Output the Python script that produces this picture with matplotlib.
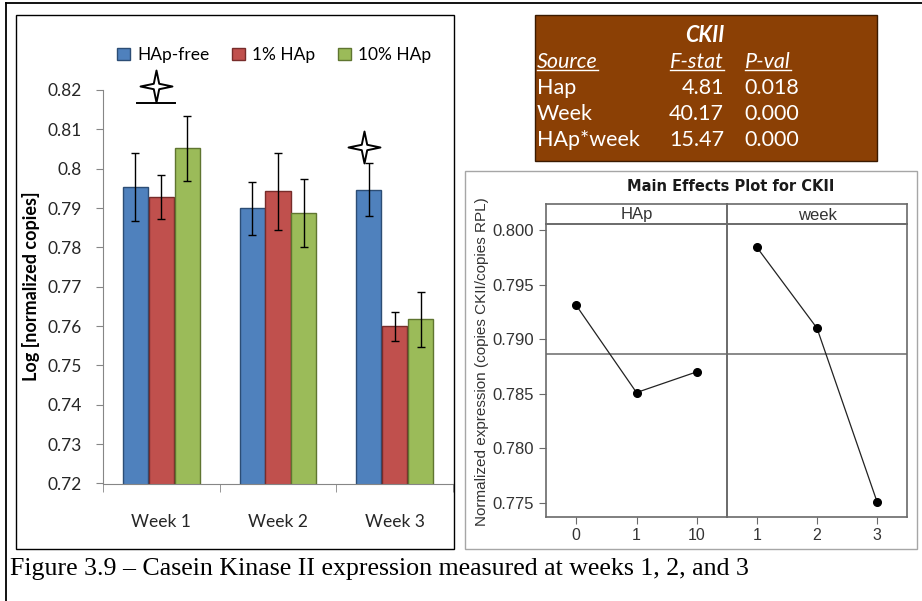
import numpy as np
import matplotlib
matplotlib.use('Agg')
import matplotlib.pyplot as plt
from matplotlib.patches import Rectangle
from matplotlib.lines import Line2D
from matplotlib.path import Path

W, H = 922, 601

# bar chart data
weeks = ['Week 1', 'Week 2', 'Week 3']
groups = ['HAp-free', '1% HAp', '10% HAp']
hap_free = [0.7953, 0.7899, 0.7947]
hap_1 = [0.7928, 0.7943, 0.7599]
hap_10 = [0.8052, 0.7888, 0.7617]
err_free = [0.0086, 0.0067, 0.0067]
err_1 = [0.0056, 0.0098, 0.0036]
err_10 = [0.0083, 0.0086, 0.0070]

# significance marks
star_x = [-0.05, 1.74]
star_y = [0.8210, 0.8054]
sig_line_x = [-0.21, 0.12]
sig_line_y = 0.8168

# ANOVA table
anova_title = 'CKII'
anova_head = ['Source', 'F-stat', 'P-val']
anova_source = ['Hap', 'Week', 'HAp*week']
anova_f = ['4.81', '40.17', '15.47']
anova_p = ['0.018', '0.000', '0.000']

# main effects plot
hap_levels = ['0', '1', '10']
hap_means = [0.7931, 0.7851, 0.7870]
week_levels = ['1', '2', '3']
week_means = [0.7984, 0.7910, 0.7751]
grand_mean = 0.7886

caption = 'Figure 3.9 \u2013 Casein Kinase II expression measured at weeks 1, 2, and 3'


def fbox(x0, y0, x1, y1):
    return [x0 / W, 1 - y1 / H, (x1 - x0) / W, (y1 - y0) / H]


def fx(x):
    return x / W


def fy(y):
    return 1 - y / H


def frame_rect(fig, x0, y0, x1, y1, **kw):
    fig.add_artist(Rectangle((fx(x0), fy(y1)), (x1 - x0) / W, (y1 - y0) / H,
                             transform=fig.transFigure, **kw))


def main():
    fig = plt.figure(figsize=(9.22, 6.01), dpi=100, facecolor='w')

    # outer lines
    fig.add_artist(Line2D([fx(6), fx(6)], [fy(3), fy(601)], color='k', lw=1.3, transform=fig.transFigure))
    fig.add_artist(Line2D([fx(6), fx(922)], [fy(3), fy(3)], color='k', lw=1.3, transform=fig.transFigure))

    # left chart box
    frame_rect(fig, 16, 15, 454, 549, fill=False, edgecolor='k', lw=1.0)

    # ---- bar chart ----
    ax = fig.add_axes(fbox(103, 90, 453, 483.5))
    x = np.arange(len(weeks))
    bw = 0.215
    cols = ['#4F81BD', '#C0504D', '#9BBB59']
    edges = ['#2C4D75', '#772C2A', '#5F7530']
    offs = [-0.222, 0.0, 0.222]
    for off, vals, errs, c, e, lab in zip(offs, [hap_free, hap_1, hap_10],
                                          [err_free, err_1, err_10], cols, edges, groups):
        ax.bar(x + off, vals, bw, yerr=errs, color=c, edgecolor=e, linewidth=1.0,
               label=lab, zorder=2,
               error_kw=dict(ecolor='black', elinewidth=1.0, capsize=3, capthick=1.0, zorder=3))
    ax.set_xlim(-0.5, 2.5)
    ax.set_ylim(0.72, 0.82)
    yt = np.round(np.arange(0.72, 0.8201, 0.01), 2)
    ax.set_yticks(yt)
    ax.set_yticklabels([f'{v:g}' for v in yt], fontsize=12.5, family='Lato', color='#262626')
    ax.set_xticks(x)
    ax.set_xticklabels(weeks, fontsize=12.5, family='Lato', color='#262626')
    ax.set_xticks(np.arange(-0.5, 2.6, 1.0), minor=True)
    ax.tick_params(axis='x', which='major', length=0, pad=22)
    ax.tick_params(axis='x', which='minor', length=6, color='#868686', direction='out')
    ax.tick_params(axis='y', length=5, color='#868686', direction='out', pad=10)
    for s in ['top', 'right']:
        ax.spines[s].set_visible(False)
    for s in ['left', 'bottom']:
        ax.spines[s].set_color('#868686')
    fig.text(fx(31), fy(286), 'Log [normalized copies]', rotation=90, ha='center', va='center',
             fontsize=13, fontweight='bold', family='Lato')

    r = 0.17
    verts = [(0, 1), (r, r), (1, 0), (r, -r), (0, -1), (-r, -r), (-1, 0), (-r, r), (0, 1)]
    star = Path(verts, [Path.MOVETO] + [Path.LINETO] * 7 + [Path.CLOSEPOLY])
    ax.plot(sig_line_x, [sig_line_y] * 2, color='black', lw=1.4, clip_on=False, zorder=4)
    ax.plot(star_x, star_y, linestyle='none', marker=star, markersize=23,
            mfc='white', mec='black', mew=1.4, clip_on=False, zorder=5)

    ax.legend(loc='center', bbox_to_anchor=(fx(274), fy(55)), bbox_transform=fig.transFigure,
              ncol=3, frameon=False, handlelength=0.75, handleheight=0.75, handletextpad=0.4,
              columnspacing=1.3, prop=dict(family='Lato', size=12.5))

    # ---- ANOVA table ----
    frame_rect(fig, 535, 15, 877, 161, facecolor='#8B4005', edgecolor='#3a1a00', lw=1.0)
    tf = dict(family='Lato', color='white', fontsize=15.5, transform=fig.transFigure, va='center')
    fig.text(fx(705), fy(35), anova_title, ha='center', fontweight='bold', style='italic', **tf)
    heads = [fig.text(fx(537), fy(62), anova_head[0], ha='left', style='italic', **tf),
             fig.text(fx(724), fy(62), anova_head[1], ha='right', style='italic', **tf),
             fig.text(fx(791), fy(62), anova_head[2], ha='right', style='italic', **tf)]
    row_y = [88, 114, 140]
    for yy, s, f, p in zip(row_y, anova_source, anova_f, anova_p):
        fig.text(fx(537), fy(yy), s, ha='left', **tf)
        fig.text(fx(724), fy(yy), f, ha='right', **tf)
        fig.text(fx(799), fy(yy), p, ha='right', **tf)
    fig.canvas.draw()
    inv = fig.transFigure.inverted()
    for t in heads:
        bb = t.get_window_extent()
        (x0, y0), (x1, _) = inv.transform([(bb.x0, bb.y0), (bb.x1, bb.y0)])
        fig.add_artist(Line2D([x0, x1], [y0 + 2.0 / H, y0 + 2.0 / H], color='white', lw=1.0,
                              transform=fig.transFigure))

    # ---- main effects plot ----
    frame_rect(fig, 465, 171, 917, 549, fill=False, edgecolor='#a6a6a6', lw=1.0)
    fig.text(fx(731), fy(187), 'Main Effects Plot for CKII', ha='center', va='center',
             fontsize=10.5, fontweight='bold', family='DejaVu Sans', color='#1a1a1a')
    fig.text(fx(482), fy(362), 'Normalized expression (copies CKII/copies RPL)', ha='center',
             va='center', rotation=90, fontsize=11, family='Liberation Sans', color='#333333')

    gray = '#6a6a6a'
    axL = fig.add_axes(fbox(546, 224, 727, 516.7))
    axR = fig.add_axes(fbox(727, 224, 907, 516.7))
    pos = [0.5, 1.5, 2.5]
    for a, lev, means in [(axL, hap_levels, hap_means), (axR, week_levels, week_means)]:
        a.patch.set_alpha(0)
        a.axhline(grand_mean, color=gray, lw=1.1, zorder=1)
        a.plot(pos, means, color='#222222', lw=0.9, marker='o', markersize=5.5, mfc='k', mec='k', zorder=3)
        a.set_xlim(0, 3)
        a.set_ylim(0.77372, 0.80055)
        a.set_xticks(pos)
        a.set_xticklabels(lev, fontsize=11.5, family='Liberation Sans', color='#333333')
        a.tick_params(axis='x', length=5, color=gray, direction='out', pad=3)
        for s in a.spines.values():
            s.set_color(gray)
            s.set_linewidth(1.2)
    mt = np.round(np.arange(0.775, 0.8001, 0.005), 3)
    axL.set_yticks(mt)
    axL.set_yticklabels([f'{v:.3f}' for v in mt], fontsize=12, family='Liberation Sans', color='#333333')
    axL.tick_params(axis='y', length=5, color=gray, direction='out')
    axR.set_yticks([])

    for (x0, x1), lab in zip([(546, 727), (727, 907)], ['HAp', 'week']):
        sa = fig.add_axes(fbox(x0, 204, x1, 224))
        sa.patch.set_alpha(0)
        sa.set_xticks([])
        sa.set_yticks([])
        for s in sa.spines.values():
            s.set_color(gray)
            s.set_linewidth(1.2)
        sa.text(0.5, 0.45, lab, ha='center', va='center', fontsize=12, family='Liberation Sans',
                color='#333333', transform=sa.transAxes)

    # caption
    fig.text(fx(10), fy(569), caption, ha='left', va='center', fontsize=18.6, family='Liberation Serif')

    plt.savefig('out.png', dpi=100, facecolor='w')
    plt.close('all')


if __name__ == '__main__':
    main()
